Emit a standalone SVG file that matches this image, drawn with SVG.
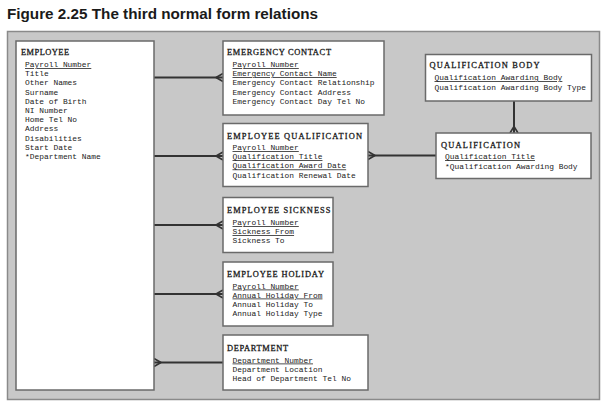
<svg xmlns="http://www.w3.org/2000/svg" width="609" height="408" viewBox="0 0 609 408">
<style>
.title{font-family:"Liberation Sans","DejaVu Sans",sans-serif;font-weight:bold;font-size:14px;fill:#1a1a1a}
.box{fill:#fff;stroke:#6a6a6a;stroke-width:1.5}
.hd{font-family:"Liberation Serif","DejaVu Serif",serif;font-size:8.4px;fill:#1a1a1a;stroke:#1a1a1a;stroke-width:0.3}
.it{font-family:"Liberation Mono","DejaVu Sans Mono",monospace;font-size:7.9px;fill:#222}
.k{text-decoration:underline}
.ln{stroke:#333;stroke-width:2;fill:none}
.cf{stroke:#333;stroke-width:1.6;fill:none}
</style>
<rect x="0" y="0" width="609" height="408" fill="#fff"/>
<text class="title" x="7" y="19" textLength="311" lengthAdjust="spacingAndGlyphs">Figure 2.25 The third normal form relations</text>
<rect x="7.5" y="31.5" width="592" height="368" fill="#c8c8c8" stroke="#8a8a8a" stroke-width="1.5"/>

<g id="connectors">
  <line class="ln" x1="154" y1="77.5" x2="223" y2="77.5"/>
  <path class="cf" d="M216,77.5 L223,73.5 M216,77.5 L223,81.5"/>
  <line class="ln" x1="154" y1="156" x2="223" y2="156"/>
  <path class="cf" d="M216,156 L223,152 M216,156 L223,160"/>
  <line class="ln" x1="154" y1="225" x2="223" y2="225"/>
  <path class="cf" d="M216,225 L223,221 M216,225 L223,229"/>
  <line class="ln" x1="154" y1="294" x2="223" y2="294"/>
  <path class="cf" d="M216,294 L223,290 M216,294 L223,298"/>
  <line class="ln" x1="154" y1="362.5" x2="223" y2="362.5"/>
  <path class="cf" d="M161,362.5 L154,358.5 M161,362.5 L154,366.5"/>
  <line class="ln" x1="368" y1="155.5" x2="436" y2="155.5"/>
  <path class="cf" d="M375,155.5 L368,151.5 M375,155.5 L368,159.5"/>
  <line class="ln" x1="514" y1="101" x2="514" y2="133"/>
  <path class="cf" d="M514,126.5 L510,133 M514,126.5 L518,133"/>
</g>

<g id="employee">
  <rect class="box" x="16" y="41" width="138" height="349"/>
  <text class="hd" x="21" y="54.5" textLength="48" lengthAdjust="spacing">EMPLOYEE</text>
  <text class="it k" x="25" y="67">Payroll Number</text>
  <text class="it" x="25" y="76.2">Title</text>
  <text class="it" x="25" y="85.4">Other Names</text>
  <text class="it" x="25" y="94.6">Surname</text>
  <text class="it" x="25" y="103.8">Date of Birth</text>
  <text class="it" x="25" y="113">NI Number</text>
  <text class="it" x="25" y="122.2">Home Tel No</text>
  <text class="it" x="25" y="131.4">Address</text>
  <text class="it" x="25" y="140.6">Disabilities</text>
  <text class="it" x="25" y="149.8">Start Date</text>
  <text class="it" x="25" y="159">*Department Name</text>
</g>

<g id="emergency-contact">
  <rect class="box" x="223" y="41" width="161" height="74"/>
  <text class="hd" x="227" y="55" textLength="104" lengthAdjust="spacing">EMERGENCY CONTACT</text>
  <text class="it k" x="232.5" y="67">Payroll Number</text>
  <text class="it k" x="232.5" y="76.2">Emergency Contact Name</text>
  <text class="it" x="232.5" y="85.4">Emergency Contact Relationship</text>
  <text class="it" x="232.5" y="94.6">Emergency Contact Address</text>
  <text class="it" x="232.5" y="103.8">Emergency Contact Day Tel No</text>
</g>

<g id="employee-qualification">
  <rect class="box" x="223" y="123.5" width="145" height="63"/>
  <text class="hd" x="227" y="138.5" textLength="135" lengthAdjust="spacing">EMPLOYEE QUALIFICATION</text>
  <text class="it k" x="232.5" y="150">Payroll Number</text>
  <text class="it k" x="232.5" y="159.2">Qualification Title</text>
  <text class="it k" x="232.5" y="168.4">Qualification Award Date</text>
  <text class="it" x="232.5" y="177.6">Qualification Renewal Date</text>
</g>

<g id="employee-sickness">
  <rect class="box" x="223" y="197.5" width="110" height="55"/>
  <text class="hd" x="227" y="212.5" textLength="103.5" lengthAdjust="spacing">EMPLOYEE SICKNESS</text>
  <text class="it k" x="232.5" y="225">Payroll Number</text>
  <text class="it k" x="232.5" y="234">Sickness From</text>
  <text class="it" x="232.5" y="243">Sickness To</text>
</g>

<g id="employee-holiday">
  <rect class="box" x="223" y="262" width="110" height="64"/>
  <text class="hd" x="227" y="276.5" textLength="97" lengthAdjust="spacing">EMPLOYEE HOLIDAY</text>
  <text class="it k" x="232.5" y="288.5">Payroll Number</text>
  <text class="it k" x="232.5" y="297.5">Annual Holiday From</text>
  <text class="it" x="232.5" y="306.6">Annual Holiday To</text>
  <text class="it" x="232.5" y="315.7">Annual Holiday Type</text>
</g>

<g id="department">
  <rect class="box" x="223" y="335" width="145" height="55"/>
  <text class="hd" x="227" y="351" textLength="61" lengthAdjust="spacing">DEPARTMENT</text>
  <text class="it k" x="232.5" y="362.5">Department Number</text>
  <text class="it" x="232.5" y="371.7">Department Location</text>
  <text class="it" x="232.5" y="380.9">Head of Department Tel No</text>
</g>

<g id="qualification-body">
  <rect class="box" x="425.5" y="54.5" width="166" height="46.5"/>
  <text class="hd" x="429.5" y="68.3" textLength="110" lengthAdjust="spacing">QUALIFICATION BODY</text>
  <text class="it k" x="434.5" y="80.2">Qualification Awarding Body</text>
  <text class="it" x="434.5" y="90">Qualification Awarding Body Type</text>
</g>

<g id="qualification">
  <rect class="box" x="436" y="133" width="155" height="45.5"/>
  <text class="hd" x="441" y="147.6" textLength="79" lengthAdjust="spacing">QUALIFICATION</text>
  <text class="it k" x="445" y="159">Qualification Title</text>
  <text class="it" x="445" y="168.5">*Qualification Awarding Body</text>
</g>
</svg>
